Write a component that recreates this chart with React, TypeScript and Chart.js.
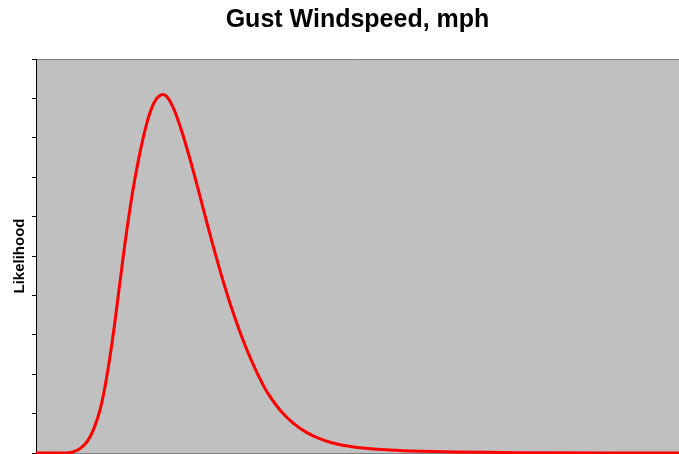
import React, { useEffect, useRef } from "react";
import { Chart, registerables } from "chart.js";

Chart.register(...registerables);

const chartTitle = "Gust Windspeed, mph";
const yAxisTitle = "Likelihood";

// Gust windspeed (mph) sample points
const windspeedMph = [
  0, 4, 5, 6, 7, 8, 9, 10, 11, 12, 13, 14, 15, 16, 17, 18, 19, 20, 21, 22, 23,
  24, 25, 26, 27, 28, 29, 30, 31, 32, 33, 34, 35, 36, 38, 40, 42, 44, 46, 48, 50,
  55, 60, 70, 80, 100,
];

// Likelihood (relative units, axis 0..10)
const likelihood = [
  0, 0, 0.005, 0.04, 0.13, 0.3, 0.62, 1.12, 1.93, 3.0, 4.26, 5.51, 6.6, 7.49,
  8.22, 8.76, 9.04, 9.09, 8.88, 8.49, 7.99, 7.43, 6.83, 6.21, 5.59, 4.99, 4.42,
  3.89, 3.4, 2.95, 2.54, 2.17, 1.83, 1.53, 1.08, 0.76, 0.53, 0.37, 0.26, 0.19,
  0.14, 0.075, 0.045, 0.017, 0.005, 0,
];

const xRange = [0, 100];
const yRange = [0, 10];
const yStep = 1;

const FONT = "'Liberation Sans', Arial, Helvetica, sans-serif";

export default function App() {
  const ref = useRef<HTMLCanvasElement>(null);

  useEffect(() => {
    if (!ref.current) return;
    const plotBg = {
      id: "plotBg",
      beforeDraw(chart: any) {
        const { ctx, chartArea: a } = chart;
        ctx.save();
        ctx.fillStyle = "#C0C0C0";
        ctx.fillRect(a.left, a.top, a.right - a.left, a.bottom - a.top);
        ctx.strokeStyle = "#808080";
        ctx.lineWidth = 1;
        ctx.beginPath();
        ctx.moveTo(a.left, Math.round(a.top) + 0.5);
        ctx.lineTo(a.right, Math.round(a.top) + 0.5);
        ctx.stroke();
        ctx.restore();
      },
    };

    const chart = new Chart(ref.current, {
      type: "line",
      data: {
        datasets: [
          {
            data: windspeedMph.map((x, i) => ({ x, y: likelihood[i] })),
            borderColor: "#FF0000",
            borderWidth: 3,
            pointRadius: 0,
            fill: false,
            tension: 0.4,
            clip: { left: 0, right: 0, top: 5, bottom: 2 } as any,
          },
        ],
      },
      options: {
        responsive: false,
        animation: false,
        devicePixelRatio: 1,
        layout: { padding: { left: 0, right: 0, top: 0, bottom: 1 } },
        plugins: {
          legend: { display: false },
          tooltip: { enabled: false },
          title: {
            display: true,
            text: chartTitle,
            fullSize: false,
            color: "#000",
            font: { family: FONT, size: 25, weight: "bold" },
            padding: { top: 5, bottom: 24 },
          },
        },
        scales: {
          x: {
            type: "linear",
            min: xRange[0],
            max: xRange[1],
            display: true,
            grid: { display: false, drawTicks: false },
            ticks: { display: false },
            border: { display: true, color: "#808080", width: 1 },
          },
          y: {
            type: "linear",
            min: yRange[0],
            max: yRange[1],
            ticks: { display: false, stepSize: yStep },
            grid: {
              display: true,
              drawOnChartArea: false,
              drawTicks: true,
              tickLength: 4,
              color: "#000",
            },
            border: { display: true, color: "#000", width: 1 },
            title: {
              display: true,
              text: yAxisTitle,
              color: "#000",
              font: { family: FONT, size: 15, weight: "bold" },
              padding: { top: 10.8, bottom: 3.2 },
            },
          },
        },
      },
      plugins: [plotBg],
    });
    return () => chart.destroy();
  }, []);

  return (
    <div style={{ position: "fixed", left: 0, top: 0, width: 679, height: 454 }}>
      <canvas ref={ref} width={679} height={454} style={{ display: "block" }} />
    </div>
  );
}
